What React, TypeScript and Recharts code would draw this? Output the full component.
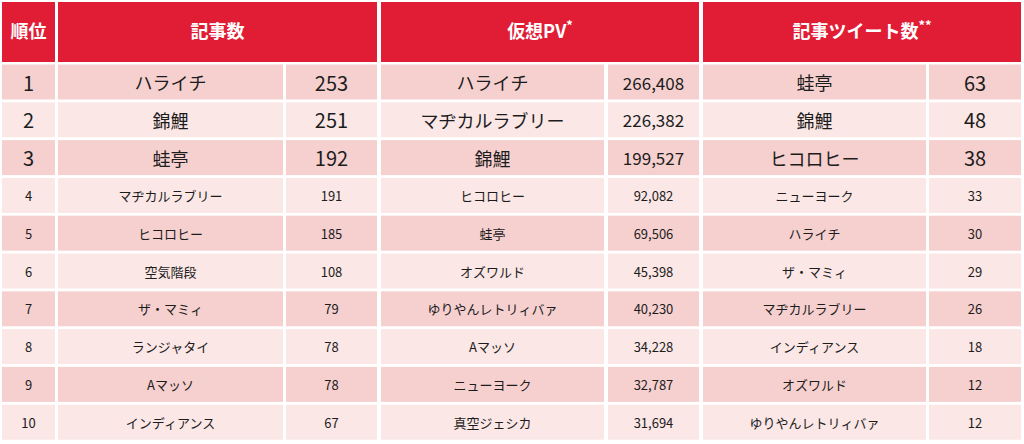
import React from 'react';
import { BarChart, Bar, XAxis, YAxis, Customized } from 'recharts';

// ---- data ----
const ranks = [1, 2, 3, 4, 5, 6, 7, 8, 9, 10];
const articleNames = ['ハライチ', '錦鯉', '蛙亭', 'マヂカルラブリー', 'ヒコロヒー', '空気階段', 'ザ・マミィ', 'ランジャタイ', 'Aマッソ', 'インディアンス'];
const articleCounts = [253, 251, 192, 191, 185, 108, 79, 78, 78, 67];
const pvNames = ['ハライチ', 'マヂカルラブリー', '錦鯉', 'ヒコロヒー', '蛙亭', 'オズワルド', 'ゆりやんレトリィバァ', 'Aマッソ', 'ニューヨーク', '真空ジェシカ'];
const pvValues = [266408, 226382, 199527, 92082, 69506, 45398, 40230, 34228, 32787, 31694];
const tweetNames = ['蛙亭', '錦鯉', 'ヒコロヒー', 'ニューヨーク', 'ハライチ', 'ザ・マミィ', 'マヂカルラブリー', 'インディアンス', 'オズワルド', 'ゆりやんレトリィバァ'];
const tweetCounts = [63, 48, 38, 33, 30, 29, 26, 18, 12, 12];
const headerLabels = ['順位', '記事数', '仮想PV', '記事ツイート数'];
const headerMarks = ['', '', '*', '**'];

const rows = ranks.map((r, i) => ({
  rank: String(r),
  articleName: articleNames[i],
  articleCount: articleCounts[i],
  pvName: pvNames[i],
  pvValue: pvValues[i],
  tweetName: tweetNames[i],
  tweetCount: tweetCounts[i],
}));

// ---- style ----
const FONT = "'Noto Sans CJK JP', 'Noto Sans', sans-serif";
const RED = '#e11d36';
const ROW_DARK = '#f6d0cf';
const ROW_LIGHT = '#fbe7e6';
const TEXT = '#1c1c1c';

const COL = {
  rank: [2, 53],
  aName: [58, 225],
  aVal: [286, 91],
  pName: [381, 223],
  pVal: [608, 91],
  tName: [703, 223],
  tVal: [929, 92],
};
const HEAD = [
  [2, 53],
  [58, 319],
  [381, 318],
  [703, 318],
];

function RowShape(props: any) {
  const { y, height, payload } = props;
  const r = Number(payload.rank);
  const big = r <= 3;
  const fill = r % 2 === 1 ? ROW_DARK : ROW_LIGHT;
  const cy = y + height / 2;
  const jp = big ? 18 : 13;
  const num = big ? 20 : 13;
  const pvNum = big ? 17 : 13;
  const cells = [
    { c: COL.rank, t: payload.rank, s: num },
    { c: COL.aName, t: payload.articleName, s: jp },
    { c: COL.aVal, t: String(payload.articleCount), s: num },
    { c: COL.pName, t: payload.pvName, s: jp },
    { c: COL.pVal, t: payload.pvValue.toLocaleString('en-US'), s: pvNum },
    { c: COL.tName, t: payload.tweetName, s: jp },
    { c: COL.tVal, t: String(payload.tweetCount), s: num },
  ];
  return (
    <g>
      {cells.map((cell, k) => (
        <g key={k}>
          <rect x={cell.c[0]} y={y} width={cell.c[1]} height={height} fill={fill} />
          <text
            x={cell.c[0] + cell.c[1] / 2}
            y={cy}
            textAnchor="middle"
            dominantBaseline="central"
            fontFamily={FONT}
            fontSize={cell.s}
            fill={TEXT}
          >
            {cell.t}
          </text>
        </g>
      ))}
    </g>
  );
}

function HeaderRow() {
  return (
    <g>
      {HEAD.map((h, k) => (
        <g key={k}>
          <rect x={h[0]} y={2} width={h[1]} height={60} fill={RED} />
          <text
            x={h[0] + h[1] / 2}
            y={30}
            textAnchor="middle"
            dominantBaseline="central"
            fontFamily={FONT}
            fontSize={18}
            fontWeight={700}
            fill="#ffffff"
          >
            {headerLabels[k]}
            {headerMarks[k] ? (
              <tspan fontSize={13} dy={-6}>{headerMarks[k]}</tspan>
            ) : null}
          </text>
        </g>
      ))}
    </g>
  );
}

export default function App() {
  return (
    <div style={{ position: 'absolute', left: 0, top: 0, width: 1024, height: 444, background: '#ffffff' }}>
      <BarChart
        width={1024}
        height={444}
        data={rows}
        layout="vertical"
        margin={{ top: 63.5, right: 0, bottom: 2.5, left: 0 }}
      >
        <XAxis type="number" dataKey="articleCount" domain={[0, 300]} hide />
        <YAxis type="category" dataKey="rank" hide width={0} />
        <Bar dataKey="articleCount" barSize={35} isAnimationActive={false} shape={RowShape} />
        <Customized component={HeaderRow} />
      </BarChart>
    </div>
  );
}
